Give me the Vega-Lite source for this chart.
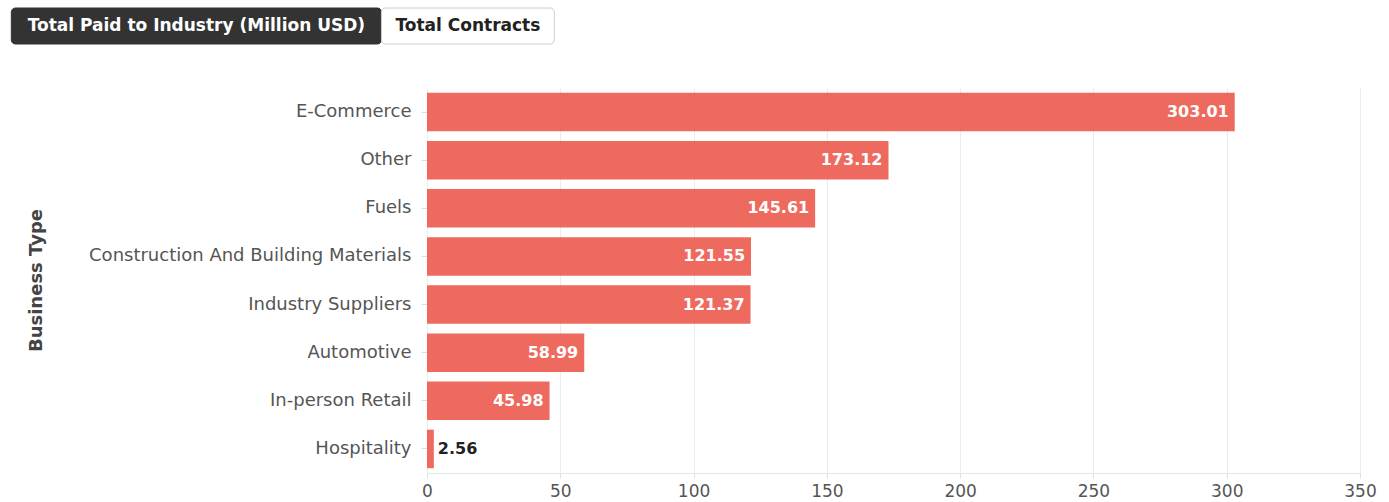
{
  "$schema": "https://vega.github.io/schema/vega-lite/v6.json",
  "padding": {"left": 10, "top": 7, "right": 5, "bottom": 0},
  "spacing": 43,
  "config": {
    "view": {"stroke": null},
    "font": "DejaVu Sans"
  },
  "vconcat": [
    {
      "width": 933,
      "height": 36,
      "data": {"values": [
        {"button": "Total Paid to Industry (Million USD)", "active": true},
        {"button": "Total Contracts", "active": false}
      ]},
      "transform": [
        {"calculate": "length(datum.button) + 3.4", "as": "chars"},
        {"stack": "chars", "groupby": [], "sort": [{"field": "button", "order": "descending"}], "as": ["x0", "x1"]},
        {"calculate": "(datum.x0 + datum.x1) / 2", "as": "xm"}
      ],
      "layer": [
        {
          "mark": {"type": "rect", "cornerRadius": 4, "strokeWidth": 1},
          "encoding": {
            "x": {"field": "x0", "type": "quantitative", "scale": {"domain": [44.25, 143.57], "nice": false, "zero": false, "clamp": false}, "axis": null},
            "x2": {"field": "x1"},
            "color": {"field": "active", "type": "nominal", "scale": {"domain": [true, false], "range": ["#333333", "#ffffff"]}, "legend": null},
            "stroke": {"field": "active", "type": "nominal", "scale": {"domain": [true, false], "range": ["#333333", "#cccccc"]}, "legend": null}
          }
        },
        {
          "mark": {"type": "text", "font": "DejaVu Sans", "fontWeight": "bold", "fontSize": 17, "baseline": "middle"},
          "encoding": {
            "x": {"field": "xm", "type": "quantitative"},
            "text": {"field": "button"},
            "color": {"field": "active", "type": "nominal", "scale": {"domain": [true, false], "range": ["#ffffff", "#222222"]}, "legend": null}
          }
        }
      ],
      "resolve": {"scale": {"color": "independent"}}
    },
    {
      "width": 933,
      "height": 385,
      "data": {"values": [
        {"business": "E-Commerce", "value": 303.01},
        {"business": "Other", "value": 173.12},
        {"business": "Fuels", "value": 145.61},
        {"business": "Construction And Building Materials", "value": 121.55},
        {"business": "Industry Suppliers", "value": 121.37},
        {"business": "Automotive", "value": 58.99},
        {"business": "In-person Retail", "value": 45.98},
        {"business": "Hospitality", "value": 2.56}
      ]},
      "encoding": {
        "y": {
          "field": "business", "type": "nominal", "sort": null,
          "scale": {"paddingInner": 0.2, "paddingOuter": 0.1},
          "axis": {
            "title": "Business Type", "titleFontSize": 18, "titleFontWeight": "bold", "titleColor": "#444444", "titleFont": "DejaVu Sans",
            "titleX": -382, "titleY": 192, "titleAngle": -90, "titleAlign": "center", "titleBaseline": "bottom",
            "labelFontSize": 18, "labelColor": "#555555", "labelPadding": 10, "labelFont": "DejaVu Sans",
            "tickSize": 6, "tickColor": "#dddddd", "domain": false, "labelLimit": 500
          }
        }
      },
      "layer": [
        {
          "mark": {"type": "bar", "color": "#ED5A4D", "opacity": 0.9},
          "encoding": {
            "x": {
              "field": "value", "type": "quantitative",
              "scale": {"domain": [0, 350], "nice": false},
              "axis": {
                "title": null, "values": [0, 50, 100, 150, 200, 250, 300, 350], "labelFlush": false,
                "labelFontSize": 17, "labelColor": "#555555", "labelFont": "DejaVu Sans",
                "gridColor": "#ebebeb", "tickColor": "#e0e0e0", "domainColor": "#e6e6e6", "tickSize": 5, "labelPadding": 5
              }
            }
          }
        },
        {
          "transform": [{"filter": "datum.value >= 10"}],
          "mark": {"type": "text", "align": "right", "baseline": "middle", "dx": -6, "color": "#ffffff", "fontWeight": "bold", "fontSize": 16, "font": "DejaVu Sans"},
          "encoding": {
            "x": {"field": "value", "type": "quantitative"},
            "text": {"field": "value", "type": "quantitative", "format": ".2f"}
          }
        },
        {
          "transform": [{"filter": "datum.value < 10"}],
          "mark": {"type": "text", "align": "left", "baseline": "middle", "dx": 4, "color": "#222222", "fontWeight": "bold", "fontSize": 16, "font": "DejaVu Sans"},
          "encoding": {
            "x": {"field": "value", "type": "quantitative"},
            "text": {"field": "value", "type": "quantitative", "format": ".2f"}
          }
        }
      ]
    }
  ]
}
